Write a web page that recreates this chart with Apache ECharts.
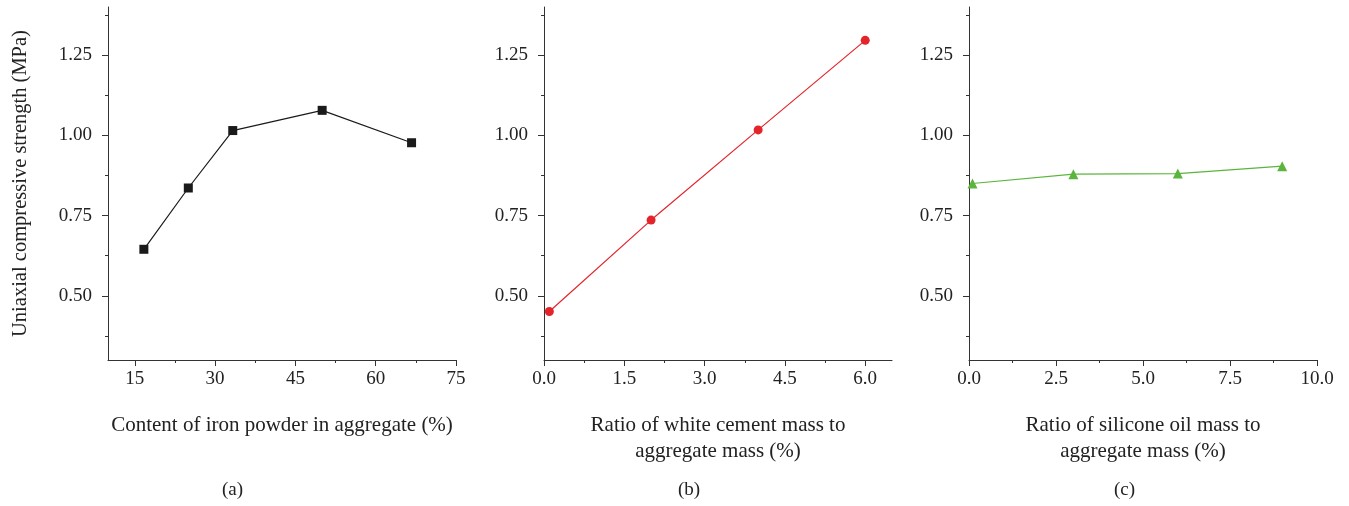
<!DOCTYPE html>
<html>
<head>
<meta charset="utf-8">
<script src="https://cdn.jsdelivr.net/npm/echarts@6/dist/echarts.min.js"></script>
<style>
    html, body {margin: 0; padding: 0; background: #fff;}
    #chart {width: 1349px; height: 506px;}
</style>
</head>
<body>
<div id="chart"></div>
<script>
// (a) iron powder content
var ironX = [16.7, 25, 33.3, 50, 66.7];
var ironY = [0.645, 0.836, 1.015, 1.078, 0.977];
// (b) white cement ratio
var cementX = [0.1, 2, 4, 6];
var cementY = [0.451, 0.736, 1.017, 1.296];
// (c) silicone oil ratio
var oilX = [0.1, 3, 6, 9];
var oilY = [0.850, 0.879, 0.881, 0.904];

var yTicks = [0.5, 0.75, 1.0, 1.25];
var yMinor = [0.375, 0.625, 0.875, 1.125, 1.375];
var xTicksA = [15, 30, 45, 60, 75];
var xMinorA = [22.5, 37.5, 52.5, 67.5];
var xTicksB = [0, 1.5, 3.0, 4.5, 6.0];
var xMinorB = [0.75, 2.25, 3.75, 5.25];
var xTicksC = [0, 2.5, 5.0, 7.5, 10.0];
var xMinorC = [1.25, 3.75, 6.25, 8.75];

var FONT = 'Liberation Serif';
var AXIS = '#333';

var chart = echarts.init(document.getElementById('chart'));

var grids = [
    {left: 108, top: 7, width: 348, height: 353},
    {left: 544, top: 7, width: 348, height: 353},
    {left: 969, top: 7, width: 348, height: 353}
];

function majorX(i, min, max, ticks, digits, name) {
    return {
        type: 'value', gridIndex: i, min: min, max: max, position: 'bottom',
        splitLine: {show: false},
        axisLine: {onZero: false, lineStyle: {color: AXIS, width: 1}},
        axisTick: {customValues: ticks, length: 6, lineStyle: {color: AXIS}},
        axisLabel: {
            customValues: ticks, margin: 10, color: '#222', fontFamily: FONT, fontSize: 19,
            formatter: function (v) { return v.toFixed(digits); }
        },
        name: name, nameLocation: 'middle', nameGap: 52,
        nameTextStyle: {color: '#222', fontFamily: FONT, fontSize: 21, lineHeight: 26}
    };
}

function minorX(i, min, max, ticks) {
    return {
        type: 'value', gridIndex: i, min: min, max: max, position: 'bottom',
        splitLine: {show: false},
        axisLine: {show: false, onZero: false},
        axisTick: {customValues: ticks, length: 3, lineStyle: {color: AXIS}},
        axisLabel: {show: false}
    };
}

function majorY(i, name) {
    return {
        type: 'value', gridIndex: i, min: 0.3, max: 1.4, position: 'left',
        splitLine: {show: false},
        axisLine: {show: true, onZero: false, lineStyle: {color: AXIS, width: 1}},
        axisTick: {show: true, customValues: yTicks, length: 6, lineStyle: {color: AXIS}},
        axisLabel: {
            customValues: yTicks, margin: 16, color: '#222', fontFamily: FONT, fontSize: 19,
            formatter: function (v) { return v.toFixed(2); }
        },
        name: name, nameLocation: 'middle', nameGap: 77, nameRotate: 90,
        nameTextStyle: {color: '#222', fontFamily: FONT, fontSize: 20.5}
    };
}

function minorY(i) {
    return {
        type: 'value', gridIndex: i, min: 0.3, max: 1.4, position: 'left',
        splitLine: {show: false},
        axisLine: {show: false, onZero: false},
        axisTick: {show: true, customValues: yMinor, length: 3, lineStyle: {color: AXIS}},
        axisLabel: {show: false}
    };
}

function pairs(xs, ys) {
    return xs.map(function (x, k) { return [x, ys[k]]; });
}

chart.setOption({
    animation: false,
    backgroundColor: '#fff',
    grid: grids,
    xAxis: [
        majorX(0, 10, 75, xTicksA, 0, 'Content of iron powder in aggregate (%)'),
        majorX(1, 0, 6.5, xTicksB, 1, 'Ratio of white cement mass to\naggregate mass (%)'),
        majorX(2, 0, 10, xTicksC, 1, 'Ratio of silicone oil mass to\naggregate mass (%)'),
        minorX(0, 10, 75, xMinorA),
        minorX(1, 0, 6.5, xMinorB),
        minorX(2, 0, 10, xMinorC)
    ],
    yAxis: [
        majorY(0, 'Uniaxial compressive strength (MPa)'),
        majorY(1, ''),
        majorY(2, ''),
        minorY(0),
        minorY(1),
        minorY(2)
    ],
    series: [
        {
            type: 'line', xAxisIndex: 0, yAxisIndex: 0,
            data: pairs(ironX, ironY),
            symbol: 'rect', symbolSize: 9,
            lineStyle: {color: '#1a1a1a', width: 1.2},
            itemStyle: {color: '#1a1a1a'}
        },
        {
            type: 'line', xAxisIndex: 1, yAxisIndex: 1,
            data: pairs(cementX, cementY),
            symbol: 'circle', symbolSize: 9,
            lineStyle: {color: '#e4242b', width: 1.2},
            itemStyle: {color: '#e4242b'}
        },
        {
            type: 'line', xAxisIndex: 2, yAxisIndex: 2,
            data: pairs(oilX, oilY),
            symbol: 'triangle', symbolSize: 10,
            lineStyle: {color: '#5bb53c', width: 1.2},
            itemStyle: {color: '#5bb53c'}
        }
    ],
    graphic: [
        {type: 'text', left: 222, top: 481, style: {text: '(a)', fill: '#222', font: '19px "Liberation Serif"'}},
        {type: 'text', left: 678, top: 481, style: {text: '(b)', fill: '#222', font: '19px "Liberation Serif"'}},
        {type: 'text', left: 1114, top: 481, style: {text: '(c)', fill: '#222', font: '19px "Liberation Serif"'}}
    ]
});
</script>
</body>
</html>
